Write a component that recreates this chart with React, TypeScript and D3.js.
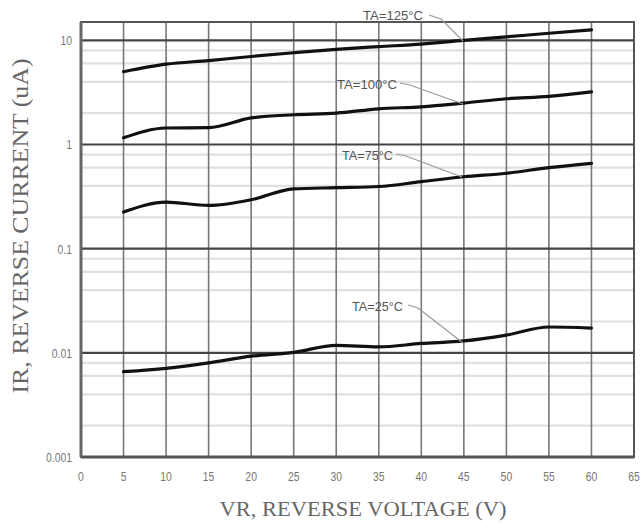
import React from "react";
import * as d3 from "d3";

const voltages = [5, 10, 15, 20, 25, 30, 35, 40, 45, 50, 55, 60];
const ir125 = [5.0, 5.9, 6.4, 7.0, 7.6, 8.2, 8.7, 9.2, 10.0, 10.8, 11.7, 12.6];
const ir100 = [1.16, 1.44, 1.45, 1.8, 1.93, 2.0, 2.2, 2.3, 2.5, 2.75, 2.9, 3.2];
const ir75 = [0.225, 0.28, 0.26, 0.295, 0.375, 0.385, 0.395, 0.44, 0.49, 0.53, 0.6, 0.66];
const ir25 = [0.0066, 0.0071, 0.008, 0.0093, 0.0101, 0.0118, 0.0114, 0.0123, 0.013, 0.0148, 0.0177, 0.0173];

const xTicks = [0, 5, 10, 15, 20, 25, 30, 35, 40, 45, 50, 55, 60, 65];
const yMajor = [0.001, 0.01, 0.1, 1, 10];
const yMajorLabels = ["0.001", "0.01", "0.1", "1", "10"];
const yMinor = [0.002, 0.004, 0.006, 0.008, 0.02, 0.04, 0.06, 0.08, 0.2, 0.4, 0.6, 0.8, 2, 4, 6, 8];

const series = [
  { label: "TA=125°C", values: ir125, tx: 363, ty: 20, leader: [[429, 15], [441, 19], [463, 41]] },
  { label: "TA=100°C", values: ir100, tx: 337, ty: 89, leader: [[400, 83], [410, 85], [463, 104]] },
  { label: "TA=75°C", values: ir75, tx: 342, ty: 160, leader: [[396, 154], [406, 156], [462, 177]] },
  { label: "TA=25°C", values: ir25, tx: 352, ty: 311, leader: [[408, 305], [418, 308], [463, 343]] },
];

export default function App() {
  const W = 643, H = 524;
  const L = 81, R = 634, T = 22, B = 457;
  const x = d3.scaleLinear().domain([0, 65]).range([L, R]);
  const y = d3.scaleLog().domain([0.001, 15]).range([B, T]);
  const line = d3.line<number>()
    .x((_, i) => x(voltages[i]))
    .y((v) => y(v))
    .curve(d3.curveMonotoneX);
  const tickFont = "'Liberation Sans', Arial, sans-serif";
  const serif = "'Liberation Serif', 'DejaVu Serif', serif";
  return (
    <svg width={W} height={H} style={{ position: "absolute", left: 0, top: 0, background: "#fff" }}>
      <rect x={0} y={0} width={W} height={H} fill="#fff" />
      {yMinor.map((v) => (
        <line key={"mn" + v} x1={L} x2={R} y1={y(v)} y2={y(v)} stroke="#e0e0e0" strokeWidth={2.2} />
      ))}
      {xTicks.slice(1, -1).map((v) => (
        <line key={"vx" + v} x1={x(v)} x2={x(v)} y1={T} y2={B} stroke="#777" strokeWidth={1.6} />
      ))}
      {yMajor.slice(1).map((v) => (
        <line key={"mj" + v} x1={L} x2={R} y1={y(v)} y2={y(v)} stroke="#444" strokeWidth={2.2} />
      ))}
      <rect x={L} y={T} width={R - L} height={B - T} fill="none" stroke="#555" strokeWidth={2} />
      <line x1={L} x2={R} y1={B} y2={B} stroke="#555" strokeWidth={3} />
      <line x1={L} x2={L} y1={T} y2={B} stroke="#666" strokeWidth={3} />
      {series.map((s) => (
        <path key={s.label} d={line(s.values) || ""} fill="none" stroke="#111" strokeWidth={3.2} strokeLinecap="round" />
      ))}
      {series.map((s) => (
        <g key={"lab" + s.label}>
          <polyline points={s.leader.map((p) => p.join(",")).join(" ")} fill="none" stroke="#999" strokeWidth={1.2} />
          <text x={s.tx} y={s.ty} fontFamily={tickFont} fontSize={12.5} fill="#555" textLength={s.label.length > 7 ? 60 : 51} lengthAdjust="spacingAndGlyphs">{s.label}</text>
        </g>
      ))}
      {xTicks.map((v) => (
        <text key={"xt" + v} x={x(v)} y={481} textAnchor="middle" fontFamily={tickFont} fontSize={13} fill="#777" transform={`translate(${x(v)},0) scale(0.8,1) translate(${-x(v)},0)`}>{v}</text>
      ))}
      {yMajor.map((v, i) => (
        <text key={"yt" + v} x={72} y={y(v) + 5} textAnchor="end" fontFamily={tickFont} fontSize={13} fill="#777" transform={`translate(72,0) scale(0.8,1) translate(-72,0)`}>{yMajorLabels[i]}</text>
      ))}
      <text x={363} y={516} textAnchor="middle" fontFamily={serif} fontSize={22} fill="#666" textLength={287} lengthAdjust="spacingAndGlyphs">VR, REVERSE VOLTAGE (V)</text>
      <text x={0} y={0} transform={`translate(28,226) rotate(-90)`} textAnchor="middle" fontFamily={serif} fontSize={23} fill="#666" textLength={335} lengthAdjust="spacingAndGlyphs">IR, REVERSE CURRENT (uA)</text>
    </svg>
  );
}
